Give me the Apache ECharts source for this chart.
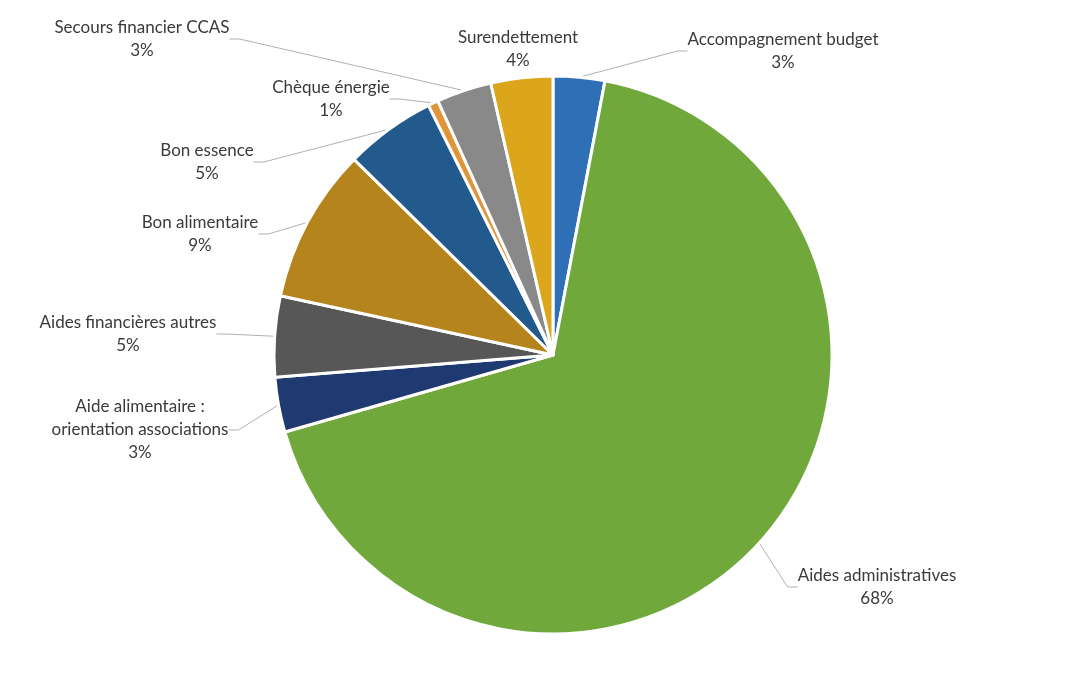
<!DOCTYPE html>
<html><head><meta charset="utf-8">
<script src="https://cdn.jsdelivr.net/npm/echarts@6/dist/echarts.min.js"></script>
<style>html,body{margin:0;padding:0;background:#fff}#c{width:1083px;height:698px}</style>
</head><body><div id="c"></div>
<script>
const categories = ['Accompagnement budget','Aides administratives','Aide alimentaire : orientation associations','Aides financières autres','Bon alimentaire','Bon essence','Chèque énergie','Secours financier CCAS','Surendettement'];
const values = [3.0, 67.9, 3.2, 4.7, 9.0, 5.3, 0.6, 3.2, 3.6];
const colors = ['#2f6fb5','#70a83c','#1f3a70','#575757','#b6841c','#225a8e','#e0953a','#898989','#dca61c'];
// label centre positions (layout only)
const labelPos = [[783,51],[877,587],[140,430],[128,334],[200,234],[207,162],[331,99],[142,39],[518,49]];
const total = values.reduce((a,b)=>a+b,0);

const chart = echarts.init(document.getElementById('c'));
chart.setOption({
  animation:false,
  series:[{
    type:'pie',
    center:[553,355],
    radius:279,
    startAngle:90,
    clockwise:true,
    data: categories.map((n,i)=>({name:n,value:values[i],itemStyle:{color:colors[i]},
      labelLine:{show:n!=='Surendettement'}})),
    itemStyle:{borderColor:'#fff',borderWidth:3},
    label:{
      show:true,position:'outside',
      formatter:p=>p.name.replace(' : ',' :\n')+'\n'+Math.round(p.value/total*100)+'%',
      fontFamily:'Lato, "Open Sans", sans-serif',fontSize:17,color:'#3a3a3a',
      lineHeight:23,align:'center'
    },
    labelLine:{show:true,lineStyle:{color:'#b0b0b0',width:1},length:10,length2:10},
    labelLayout:function(p){
      const pos = labelPos[p.dataIndex];
      return {x:pos[0],y:pos[1],align:'center',verticalAlign:'middle'};
    }
  }]
});
</script></body></html>
